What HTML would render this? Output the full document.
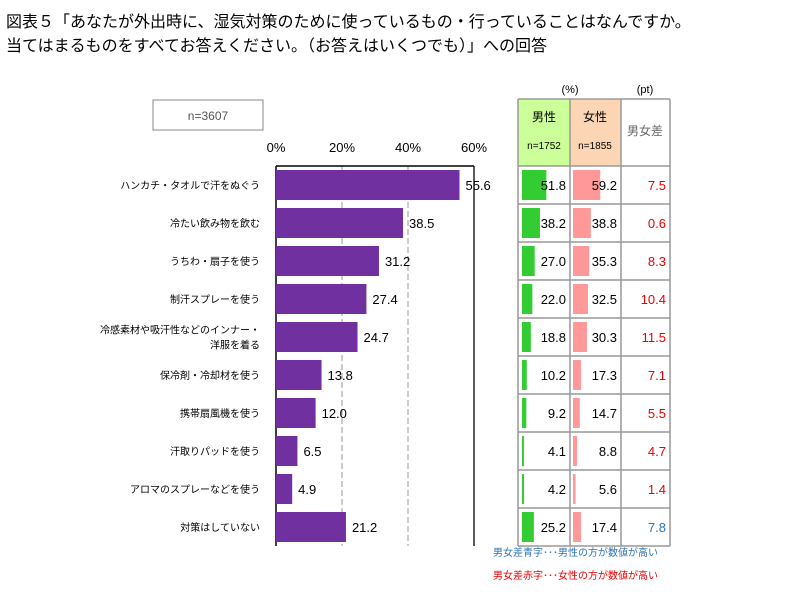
<!DOCTYPE html>
<html><head><meta charset="utf-8"><style>
body{margin:0;background:#fff;width:810px;height:610px;overflow:hidden;font-family:"Liberation Sans","Noto Sans CJK JP",sans-serif}
svg text{font-family:"Liberation Sans","Noto Sans CJK JP",sans-serif}
</style></head><body>
<svg id="c" width="810" height="610" xmlns="http://www.w3.org/2000/svg">
<text x="6" y="27" font-size="16" fill="#000">図表５「あなたが外出時に、湿気対策のために使っているもの・行っていることはなんですか。</text>
<text x="6" y="51" font-size="16" fill="#000">当てはまるものをすべてお答えください。（お答えはいくつでも）」への回答</text>
<rect x="153" y="100" width="110" height="30" fill="#fff" stroke="#888"/>
<text x="208" y="120" font-size="12" fill="#555" text-anchor="middle">n=3607</text>
<g id="main"></g>
<g id="table"></g>
<text x="493" y="556" font-size="10" fill="#2e75b6">男女差青字･･･男性の方が数値が高い</text>
<text x="493" y="579" font-size="10" fill="#e00">男女差赤字･･･女性の方が数値が高い</text>
</svg>
<script>
const categories=["ハンカチ・タオルで汗をぬぐう","冷たい飲み物を飲む","うちわ・扇子を使う","制汗スプレーを使う","冷感素材や吸汗性などのインナー・|洋服を着る","保冷剤・冷却材を使う","携帯扇風機を使う","汗取りパッドを使う","アロマのスプレーなどを使う","対策はしていない"];
const totalValues=[55.6,38.5,31.2,27.4,24.7,13.8,12.0,6.5,4.9,21.2];
const maleValues=[51.8,38.2,27.0,22.0,18.8,10.2,9.2,4.1,4.2,25.2];
const femaleValues=[59.2,38.8,35.3,32.5,30.3,17.3,14.7,8.8,5.6,17.4];
const diffValues=[7.5,0.6,8.3,10.4,11.5,7.1,5.5,4.7,1.4,7.8];
const xTicks=[0,20,40,60];
const NS="http://www.w3.org/2000/svg";
function mk(p,t,a,txt){const e=document.createElementNS(NS,t);for(const k in a)e.setAttribute(k,a[k]);if(txt!==undefined)e.textContent=txt;p.appendChild(e);return e;}
const x0=276,xs=3.3,yTop=166,rowH=38,bot=yTop+rowH*categories.length;
const X=v=>x0+v*xs, Y=i=>yTop+i*rowH;
const g=document.getElementById('main');
xTicks.forEach(t=>{
  if(t>0){const l=mk(g,'line',{x1:X(t),x2:X(t),y1:yTop,y2:bot,stroke:t==60?'#000':'#999','stroke-dasharray':t==60?'':'6,3','stroke-width':t==60?1.3:1});
  
  }
  const tx=mk(g,'text',{x:X(t),y:yTop-14,'font-size':13,'text-anchor':'middle',fill:'#000'},t+'%');
  
  
});
const ax=mk(g,'line',{x1:x0,x2:x0,y1:yTop,y2:bot,stroke:'#000','stroke-width':1.5});


const ax2=mk(g,'line',{x1:x0,x2:X(60),y1:yTop,y2:yTop,stroke:'#000','stroke-width':1.5});


categories.forEach((c,i)=>{
  const cy=Y(i)+rowH/2;
  const b=mk(g,'rect',{x:x0,y:cy-15,width:totalValues[i]*xs,height:30,fill:'#7030a0'});
  
  
  const v=mk(g,'text',{x:X(totalValues[i])+6,y:cy+5,'font-size':13,fill:'#000'},totalValues[i].toFixed(1));
  
  
  const parts=c.split('|');
  parts.forEach((p,j)=>{
    const t=mk(g,'text',{x:260,y:cy+4+(j-(parts.length-1)/2)*15,'font-size':10,'text-anchor':'end',fill:'#000'},p);
    
    
  });
});
const tg=document.getElementById('table');
const cx=[518,570,621,670], hTop=99, mS=0.47, fS=0.46;
const h1=mk(tg,'rect',{x:518,y:hTop,width:52,height:yTop-hTop,fill:'#ccff99'});


const h2=mk(tg,'rect',{x:570,y:hTop,width:51,height:yTop-hTop,fill:'#fcd5b4'});


[['男性',544,121,12,'#000'],['n=1752',544,149,10,'#000'],['女性',595,121,12,'#000'],['n=1855',595,149,10,'#000'],['男女差',645,135,12,'#666'],['(%)',570,93,11,'#000'],['(pt)',645,93,11,'#000']].forEach(a=>{
  const t=mk(tg,'text',{x:a[1],y:a[2],'font-size':a[3],'text-anchor':'middle',fill:a[4]},a[0]);
  
  
});
categories.forEach((c,i)=>{
  const y=Y(i);
  const mb=mk(tg,'rect',{x:522,y:y+4,width:maleValues[i]*mS,height:rowH-8,fill:'#33cc33'});
  
  
  const fb=mk(tg,'rect',{x:573,y:y+4,width:femaleValues[i]*fS,height:rowH-8,fill:'#ff9999'});
  
  
  const mt=mk(tg,'text',{x:566,y:y+24,'font-size':13,'text-anchor':'end',fill:'#000'},maleValues[i].toFixed(1));
  
  
  const ft=mk(tg,'text',{x:617,y:y+24,'font-size':13,'text-anchor':'end',fill:'#000'},femaleValues[i].toFixed(1));
  
  
  const blue=maleValues[i]>femaleValues[i];
  const dt=mk(tg,'text',{x:666,y:y+24,'font-size':13,'text-anchor':'end',fill:blue?'#2e75b6':'#e00'},diffValues[i].toFixed(1));
  
  
});
for(let i=0;i<=categories.length;i++){
  const l=mk(tg,'line',{x1:518,x2:670,y1:Y(i),y2:Y(i),stroke:'#999','stroke-width':1.5});
  
  
}
const tl=mk(tg,'line',{x1:518,x2:670,y1:hTop,y2:hTop,stroke:'#999','stroke-width':1.5});


cx.forEach(x=>{
  const l=mk(tg,'line',{x1:x,x2:x,y1:hTop,y2:bot,stroke:'#999','stroke-width':1.5});
  
  
});
</script>
</body></html>
